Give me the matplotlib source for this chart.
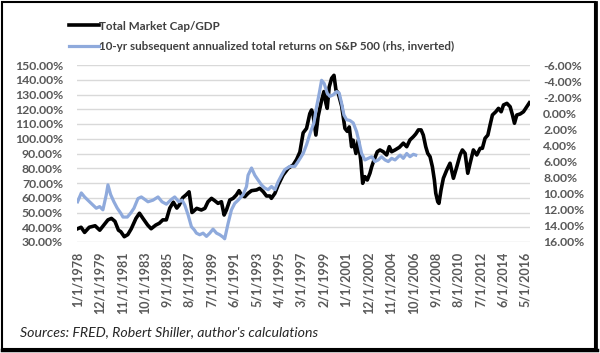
import matplotlib
matplotlib.use("Agg")
import matplotlib.pyplot as plt
from matplotlib.lines import Line2D
from matplotlib.patches import Rectangle
from matplotlib.ticker import FuncFormatter

# Total market cap / GDP (left axis, %)
mcap_years = [
    1978.0, 1978.3, 1978.6, 1979.0, 1979.5, 1979.9, 1980.2, 1980.6, 1980.9, 1981.2,
    1981.5, 1981.7, 1982.0, 1982.3, 1982.6, 1983.0, 1983.3, 1983.6, 1984.0, 1984.3,
    1984.7, 1985.0, 1985.3, 1985.6, 1985.9, 1986.2, 1986.5, 1986.7, 1987.0, 1987.3,
    1987.55, 1987.8, 1987.9, 1988.2, 1988.6, 1988.9, 1989.17, 1989.47, 1989.75, 1990.03,
    1990.32, 1990.55, 1990.75, 1991.04, 1991.32, 1991.6, 1991.83, 1992.04, 1992.32, 1992.6,
    1992.9, 1993.33, 1993.6, 1993.9, 1994.18, 1994.47, 1994.6, 1994.9, 1995.18, 1995.6,
    1996.04, 1996.46, 1996.76, 1997.04, 1997.32, 1997.61, 1997.89, 1998.04, 1998.18, 1998.41,
    1998.6, 1998.9, 1999.1, 1999.27, 1999.38, 1999.55, 1999.76, 1999.96, 2000.13, 2000.32,
    2000.62, 2000.9, 2001.1, 2001.27, 2001.47, 2001.6, 2001.84, 2002.04, 2002.25, 2002.42,
    2002.61, 2002.81, 2003.04, 2003.19, 2003.39, 2003.67, 2003.9, 2004.18, 2004.47, 2004.7,
    2004.9, 2005.19, 2005.56, 2005.9, 2006.19, 2006.47, 2006.76, 2006.96, 2007.19, 2007.42,
    2007.61, 2007.82, 2007.99, 2008.19, 2008.39, 2008.56, 2008.68, 2008.85, 2008.95, 2009.13,
    2009.33, 2009.62, 2009.9, 2010.19, 2010.48, 2010.76, 2010.96, 2011.19, 2011.42, 2011.62,
    2011.9, 2012.19, 2012.48, 2012.67, 2012.9, 2013.14, 2013.33, 2013.53, 2013.82, 2014.05,
    2014.28, 2014.48, 2014.77, 2015.05, 2015.25, 2015.42, 2015.62, 2015.91, 2016.19, 2016.48,
    2016.7,
]
mcap_values = [
    39, 40, 36.5, 40, 41, 38, 41, 45, 46, 44,
    38, 37, 33.6, 35, 39, 46, 49.5, 46, 41.5, 39,
    41.5, 42.7, 45, 45, 53, 57, 53, 55, 60, 62,
    64, 50, 50.6, 52.8, 51.7, 52.8, 57.3, 59.6, 58, 56.2,
    57.3, 48.3, 51.7, 58.5, 59.6, 61.9, 64.8, 61.9, 60.7, 63,
    64.8, 65.3, 66.4, 64.1, 61.2, 61.2, 59.6, 63, 68.6, 75.4,
    80, 82.2, 86, 91, 104, 107, 117, 119.5, 116, 102.5,
    115, 126, 132, 124, 120.6, 135, 141, 143, 133, 131,
    122, 107, 105, 108, 94.6, 99, 90, 99, 85.6, 69.8,
    74.3, 72, 76.6, 81, 85.6, 91.2, 92.4, 91.2, 89, 94.6,
    91.2, 92.4, 94.2, 97, 94.6, 99.2, 101.4, 103.2, 106, 106,
    102.5, 94.6, 90.1, 87.8, 81, 72, 63, 57.3, 56.2, 65.3,
    73.2, 78.8, 83.4, 73.2, 81, 89, 92.4, 90.1, 76.6, 83.4,
    92.4, 89, 93.5, 93.5, 100.3, 102.5, 109.3, 116.1, 118.3, 120.6,
    118.3, 122.9, 124, 121.7, 116.1, 110.5, 116.1, 116.8, 118.3, 121.7,
    124.4,
]

# 10-yr subsequent annualized total returns on S&P 500 (right axis, %, inverted)
ret_years = [
    1978.0, 1978.32, 1978.6, 1978.88, 1979.31, 1979.6, 1979.89, 1980.17, 1980.46, 1980.6,
    1980.83, 1981.11, 1981.4, 1981.69, 1981.89, 1982.26, 1982.55, 1982.83, 1983.17, 1983.46,
    1983.75, 1984.03, 1984.46, 1984.89, 1985.23, 1985.61, 1986.04, 1986.32, 1986.66, 1986.95,
    1987.18, 1987.46, 1987.75, 1988.0, 1988.18, 1988.46, 1988.75, 1989.04, 1989.32, 1989.6,
    1989.9, 1990.18, 1990.46, 1990.6, 1990.89, 1991.18, 1991.46, 1991.75, 1992.18, 1992.47,
    1992.6, 1992.9, 1993.18, 1993.46, 1993.75, 1994.04, 1994.32, 1994.61, 1994.9, 1995.18,
    1995.47, 1995.75, 1996.18, 1996.61, 1996.89, 1997.32, 1997.61, 1997.96, 1998.24, 1998.47,
    1998.7, 1998.9, 1999.12, 1999.38, 1999.61, 1999.9, 2000.19, 2000.41, 2000.62, 2000.81,
    2001.04, 2001.33, 2001.61, 2001.9, 2002.13, 2002.33, 2002.61, 2002.9, 2003.19, 2003.47,
    2003.75, 2004.04, 2004.33, 2004.61, 2004.9, 2005.19, 2005.47, 2005.62, 2005.9, 2006.19,
    2006.47, 2006.76, 2006.96,
]
ret_values = [
    11.0, 9.9, 10.4, 10.8, 11.4, 11.8, 11.6, 12.0, 10.1, 8.9,
    10.1, 11.0, 11.8, 12.4, 12.9, 12.9, 12.4, 11.8, 10.6, 10.4,
    10.7, 11.0, 10.8, 10.4, 11.0, 11.3, 10.7, 10.4, 11.0, 10.8,
    11.4, 12.6, 14.1, 14.5, 14.9, 15.1, 14.9, 15.3, 14.9, 14.4,
    14.9, 15.1, 15.4, 15.6, 13.7, 12.0, 11.2, 10.8, 10.1, 9.1,
    7.7, 6.8, 7.7, 8.3, 8.9, 9.3, 9.5, 9.1, 9.5, 8.5,
    7.7, 7.0, 6.6, 6.6, 6.0, 5.0, 3.9, 2.3, 1.2, -0.8,
    -2.5, -4.1, -3.7, -2.5, -2.1, -2.3, -2.7, -2.5, -1.2, 0.2,
    0.8, 0.9, 1.2, 2.3, 3.7, 5.0, 5.8, 5.6, 5.4, 6.0,
    5.8, 5.4, 5.8, 6.0, 5.6, 5.8, 5.4, 5.2, 5.6, 5.0,
    5.4, 5.1, 5.2,
]

# category labels every 23 months, as Excel shows them
tick_years = [1978 + 23 * k / 12 for k in range(21)]
tick_labels = [
    "1/1/1978", "12/1/1979", "11/1/1981", "10/1/1983", "9/1/1985", "8/1/1987",
    "7/1/1989", "6/1/1991", "5/1/1993", "4/1/1995", "3/1/1997", "2/1/1999",
    "1/1/2001", "12/1/2002", "11/1/2004", "10/1/2006", "9/1/2008", "8/1/2010",
    "7/1/2012", "6/1/2014", "5/1/2016",
]
left_ticks = list(range(30, 151, 10))
right_ticks = list(range(-6, 17, 2))

BLACK = "#000000"
BLUE = "#8faadc"
GRID = "#d9d9d9"
TXT = "#595959"


def main():
    plt.rcParams["font.family"] = ["Lato", "DejaVu Sans"]
    fig = plt.figure(figsize=(6.0, 3.53), dpi=100)
    ax = fig.add_axes([77 / 600, 1 - 242 / 353, 453 / 600, 177 / 353])
    ax2 = ax.twinx()

    ax.plot(mcap_years, mcap_values, color=BLACK, lw=2.6, solid_joinstyle="round", zorder=3)
    ax2.plot(ret_years, ret_values, color=BLUE, lw=2.3, solid_joinstyle="round", zorder=3)

    ax.set_ylim(30, 150)
    ax.set_yticks(left_ticks)
    ax.yaxis.set_major_formatter(FuncFormatter(lambda v, p: f"{v:.2f}%"))
    ax2.set_ylim(16, -6)
    ax2.set_yticks(right_ticks)
    ax2.yaxis.set_major_formatter(FuncFormatter(lambda v, p: f"{v:.2f}%"))

    ax.set_xlim(1977.95, 2016.75)
    ax.set_xticks(tick_years)
    ax.set_xticklabels(tick_labels, rotation=90)

    ax.grid(axis="y", color=GRID, lw=1.0)
    ax.set_axisbelow(True)
    for a in (ax, ax2):
        for s in a.spines.values():
            s.set_visible(False)
        a.tick_params(length=0)
    ax.tick_params(axis="y", pad=10, labelsize=8.8, labelcolor=TXT)
    ax.tick_params(axis="x", pad=7, labelsize=9.0, labelcolor=TXT)
    ax2.tick_params(axis="y", pad=9.5, labelsize=8.8, labelcolor=TXT)
    for lab in ax.get_yticklabels() + ax.get_xticklabels() + ax2.get_yticklabels():
        lab.set_fontweight("bold")

    handles = [
        Line2D([], [], color=BLACK, lw=2.6),
        Line2D([], [], color=BLUE, lw=2.3),
    ]
    fig.legend(handles, ["Total Market Cap/GDP",
                         "10-yr subsequent annualized total returns on S&P 500 (rhs, inverted)"],
               loc="upper left", bbox_to_anchor=(58 / 600, 1 - 10 / 353), frameon=False,
               handlelength=2.6, handletextpad=0.05, labelspacing=0.85,
               prop={"weight": "bold", "size": 8.4}, labelcolor="#404040")

    fig.text(20 / 600, 1 - 332 / 353, "Sources: FRED, Robert Shiller, author's calculations",
             fontsize=10.2, style="italic", color="#262626", va="center")

    # chart frame
    fig.patches.append(Rectangle((2 / 600, 4 / 353), 593 / 600, 347 / 353,
                                 transform=fig.transFigure, fill=False,
                                 edgecolor="black", lw=1.5))
    fig.add_artist(Line2D([2 / 600, 597 / 600], [3 / 353, 3 / 353],
                          transform=fig.transFigure, color="black", lw=2.5))
    fig.add_artist(Line2D([596 / 600, 596 / 600], [3 / 353, 351 / 353],
                          transform=fig.transFigure, color="black", lw=2.0))

    fig.savefig("out.png", dpi=100)


if __name__ == "__main__":
    main()
